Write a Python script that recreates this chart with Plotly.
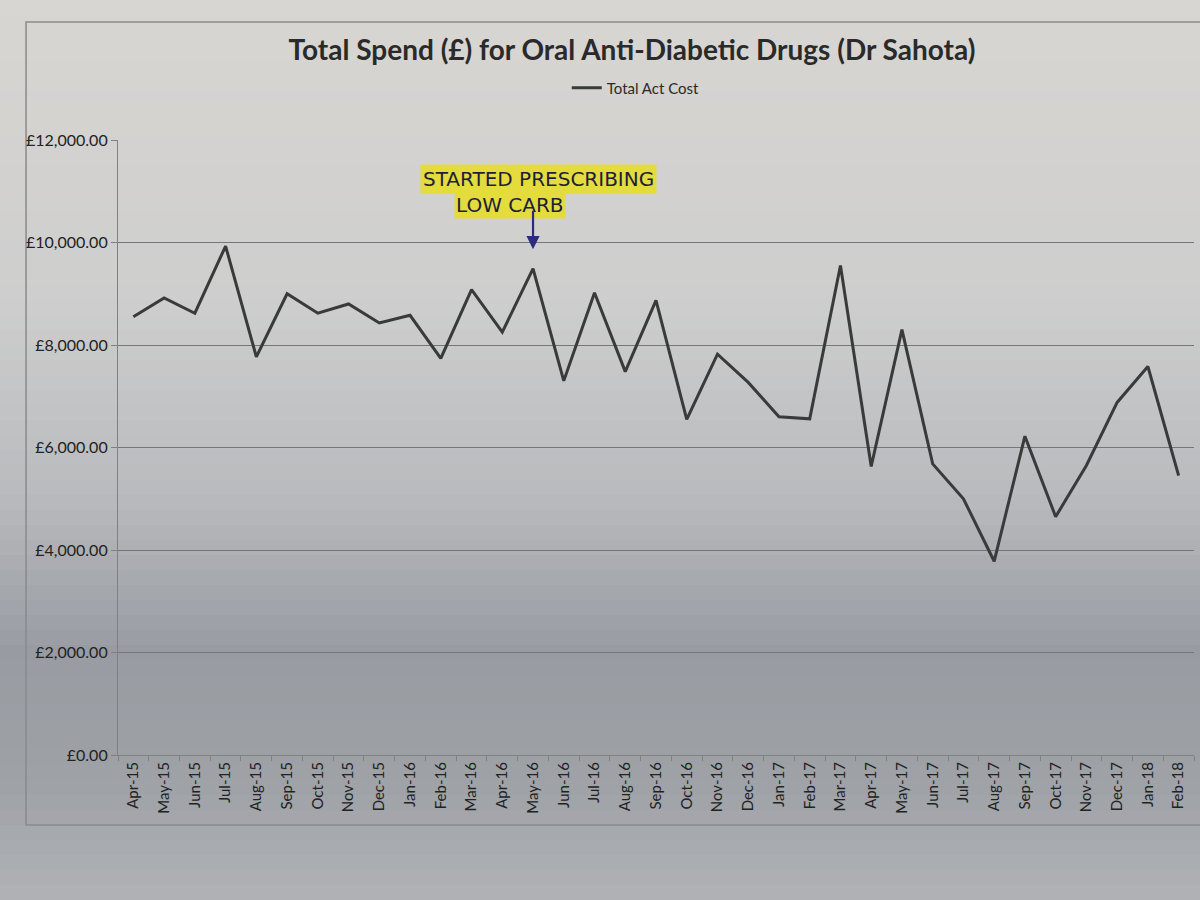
import plotly.graph_objects as go

# ---- data ----
months = ["Apr-15", "May-15", "Jun-15", "Jul-15", "Aug-15", "Sep-15", "Oct-15", "Nov-15",
          "Dec-15", "Jan-16", "Feb-16", "Mar-16", "Apr-16", "May-16", "Jun-16", "Jul-16",
          "Aug-16", "Sep-16", "Oct-16", "Nov-16", "Dec-16", "Jan-17", "Feb-17", "Mar-17",
          "Apr-17", "May-17", "Jun-17", "Jul-17", "Aug-17", "Sep-17", "Oct-17", "Nov-17",
          "Dec-17", "Jan-18", "Feb-18"]
total_act_cost = [8550, 8920, 8620, 9930, 7770, 9000, 8620, 8800,
                  8430, 8580, 7740, 9080, 8250, 9490, 7300, 9020,
                  7480, 8870, 6550, 7820, 7270, 6600, 6560, 9550,
                  5630, 8300, 5680, 5000, 3780, 6220, 4650, 5650,
                  6880, 7580, 5450]
y_ticks = [0, 2000, 4000, 6000, 8000, 10000, 12000]
y_tick_labels = ["£0.00", "£2,000.00", "£4,000.00", "£6,000.00", "£8,000.00",
                 "£10,000.00", "£12,000.00"]
series_name = "Total Act Cost"
title_text = "Total Spend (£) for Oral Anti-Diabetic Drugs (Dr Sahota)"
note_line1 = "STARTED PRESCRIBING"
note_line2 = "LOW CARB"
note_month = "May-16"

FONT = "Lato, 'Open Sans', sans-serif"

fig = go.Figure()
fig.add_trace(go.Scatter(
    x=months, y=total_act_cost, mode="lines", name=series_name,
    line=dict(color="#3a3a3a", width=3), showlegend=True,
))

# photographed-paper background: vertical shading bands
stops = [(0, (216, 214, 210)), (300, (206, 206, 206)), (500, (184, 186, 189)),
         (650, (152, 156, 162)), (780, (158, 161, 166)), (900, (176, 178, 182))]
L, T, B, W = 118, 140, 755, 1076.5
def px_to_py(p):
    return (B - p) / (B - T)
def px_to_px(p):
    return (p - L) / W
def col_at(p):
    for (a, ca), (b, cb) in zip(stops[:-1], stops[1:]):
        if a <= p <= b:
            t = (p - a) / (b - a)
            return "rgb(%d,%d,%d)" % tuple(round(ca[i] + (cb[i] - ca[i]) * t) for i in range(3))
    return "rgb(%d,%d,%d)" % stops[-1][1]
shapes = []
n = 60
for i in range(n):
    p0 = 900 * i / n
    p1 = 900 * (i + 1) / n + 1
    shapes.append(dict(type="rect", xref="paper", yref="paper", layer="below",
                       x0=px_to_px(-5), x1=px_to_px(1205), y0=px_to_py(p1), y1=px_to_py(p0),
                       fillcolor=col_at((p0 + p1) / 2), line=dict(width=0)))
# chart-area border of the printed chart
shapes.append(dict(type="rect", xref="paper", yref="paper", layer="below",
                   x0=px_to_px(26), x1=px_to_px(1215), y0=px_to_py(825), y1=px_to_py(22),
                   fillcolor="rgba(0,0,0,0)", line=dict(color="#8a8a8a", width=1.5)))

annotations = [
    dict(text=note_line1, xref="paper", yref="paper", x=px_to_px(539), y=px_to_py(164),
         showarrow=False, bgcolor="#e4dc3c", borderpad=2,
         font=dict(family="'DejaVu Sans', sans-serif", size=20, color="#1e1e3a")),
    dict(text=note_line2, xref="paper", yref="paper", x=px_to_px(510), y=px_to_py(191),
         showarrow=False, bgcolor="#e4dc3c", borderpad=1,
         font=dict(family="'DejaVu Sans', sans-serif", size=20, color="#1e1e3a")),
    dict(text="", x=note_month, y=9870, xref="x", yref="y", showarrow=True,
         ax=0, ay=-40, arrowhead=2, arrowsize=1.2, arrowwidth=2.2, arrowcolor="#2e2a80"),
]

fig.update_layout(
    width=1200, height=900,
    margin=dict(l=L, r=1200 - L - W, t=T, b=900 - B, pad=0),
    paper_bgcolor="rgb(200,200,200)",
    plot_bgcolor="rgba(0,0,0,0)",
    font=dict(family=FONT, color="#2a2a2a"),
    title=dict(text="<b>" + title_text + "</b>", x=632 / 1200,
               xanchor="center", y=1 - 50 / 900, yanchor="middle",
               font=dict(family=FONT, size=28, color="#2a2a2a")),
    legend=dict(orientation="h", x=px_to_px(636), xanchor="center", y=px_to_py(88),
                yanchor="middle", bgcolor="rgba(0,0,0,0)",
                font=dict(family=FONT, size=15, color="#2a2a2a")),
    shapes=shapes,
    annotations=annotations,
    showlegend=True,
)
fig.update_xaxes(
    type="category", categoryorder="array", categoryarray=months,
    range=[-0.5, len(months) - 0.5],
    tickangle=-90, tickson="boundaries", ticks="outside", ticklen=5,
    tickcolor="#808080", showline=True, linecolor="#808080", linewidth=1.2,
    showgrid=False, tickfont=dict(family=FONT, size=15, color="#222222"),
)
fig.update_yaxes(
    range=[0, 12000], tickvals=y_ticks, ticktext=y_tick_labels,
    ticks="outside", ticklen=6, tickcolor="#808080",
    showline=True, linecolor="#808080", linewidth=1.2,
    showgrid=True, gridcolor="#767676", gridwidth=1.2, zeroline=False,
    tickfont=dict(family=FONT, size=16, color="#222222"),
)
fig.write_html("out.html", config={"displayModeBar": False},
               post_script="document.body.style.margin='0';")
